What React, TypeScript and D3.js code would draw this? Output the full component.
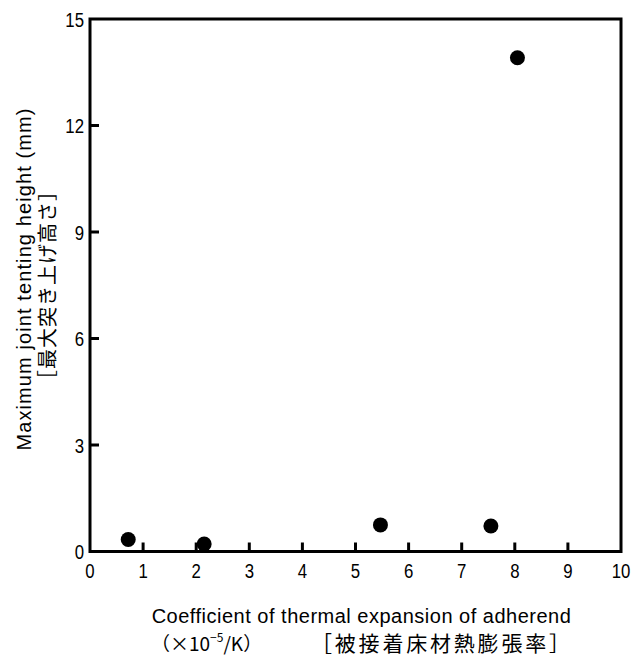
import React from "react";
import * as d3 from "d3";

// Coefficient of thermal expansion of adherend (×10^-5 /K)
const expansionCoeff = [0.72, 2.15, 5.47, 7.55, 8.05];
// Maximum joint tenting height (mm)
const tentingHeight = [0.34, 0.21, 0.75, 0.72, 13.91];

const xTicks = [0, 1, 2, 3, 4, 5, 6, 7, 8, 9, 10];
const yTicks = [0, 3, 6, 9, 12, 15];

const W = 633;
const H = 659;
const plot = { left: 90, right: 621, top: 19, bottom: 551.5 };

const LAT_FONT = "'Liberation Sans', Arial, sans-serif";
const JP_FONT = "'Noto Sans CJK JP', sans-serif";
const NARROW = 0.8;

export default function App() {
  const x = d3.scaleLinear().domain([0, 10]).range([plot.left, plot.right]);
  const y = d3.scaleLinear().domain([0, 15]).range([plot.bottom, plot.top]);
  const tickLen = 9;
  const points = expansionCoeff.map((v, i) => ({ cx: x(v), cy: y(tentingHeight[i]) }));

  return (
    <svg
      width={W}
      height={H}
      style={{ position: "absolute", left: 0, top: 0, background: "#fff" }}
    >
      <rect x={0} y={0} width={W} height={H} fill="#fff" />

      {/* inward ticks */}
      {xTicks.slice(1, -1).map((t) => (
        <line
          key={"xt" + t}
          x1={x(t)}
          x2={x(t)}
          y1={plot.bottom}
          y2={plot.bottom - tickLen}
          stroke="#000"
          strokeWidth={3}
        />
      ))}
      {yTicks.slice(1, -1).map((t) => (
        <line
          key={"yt" + t}
          x1={plot.left}
          x2={plot.left + tickLen}
          y1={y(t)}
          y2={y(t)}
          stroke="#000"
          strokeWidth={3}
        />
      ))}

      {/* frame */}
      <rect
        x={plot.left}
        y={plot.top}
        width={plot.right - plot.left}
        height={plot.bottom - plot.top}
        fill="none"
        stroke="#000"
        strokeWidth={3}
      />

      {/* tick labels (condensed numerals) */}
      {xTicks.map((t) => (
        <g key={"xl" + t} transform={`translate(${x(t)}, 578) scale(${NARROW}, 1)`}>
          <text textAnchor="middle" fontFamily={LAT_FONT} fontSize={21} fill="#000">
            {t}
          </text>
        </g>
      ))}
      {yTicks.map((t) => (
        <g key={"yl" + t} transform={`translate(84, ${y(t) + 7.5}) scale(${NARROW}, 1)`}>
          <text textAnchor="end" fontFamily={LAT_FONT} fontSize={21} fill="#000">
            {t}
          </text>
        </g>
      ))}

      {/* data points */}
      {points.map((p, i) => (
        <circle key={"pt" + i} cx={p.cx} cy={p.cy} r={7.5} fill="#000" />
      ))}

      {/* y-axis title */}
      <g transform="translate(31, 279) rotate(-90)">
        <text
          textAnchor="middle"
          fontFamily={LAT_FONT}
          fontSize={20}
          letterSpacing={1.1}
          fill="#000"
        >
          Maximum joint tenting height (mm)
        </text>
      </g>
      <g transform="translate(55, 285) rotate(-90)">
        <text
          textAnchor="middle"
          fontFamily={JP_FONT}
          fontSize={20}
          letterSpacing={1}
          fill="#000"
        >
          ［最大突き上げ高さ］
        </text>
      </g>

      {/* x-axis title */}
      <text
        x={361.5}
        y={623}
        textAnchor="middle"
        fontFamily={LAT_FONT}
        fontSize={20}
        letterSpacing={0.5}
        fill="#000"
      >
        Coefficient of thermal expansion of adherend
      </text>
      <text x={151} y={651} fontFamily={JP_FONT} fontSize={19} fill="#000">
        （×10
        <tspan fontSize={12} dy={-9}>
          −5
        </tspan>
        <tspan dy={9}>/K）</tspan>
      </text>
      <text
        x={311}
        y={651}
        fontFamily={JP_FONT}
        fontSize={21}
        letterSpacing={2.8}
        fill="#000"
      >
        ［被接着床材熱膨張率］
      </text>
    </svg>
  );
}
